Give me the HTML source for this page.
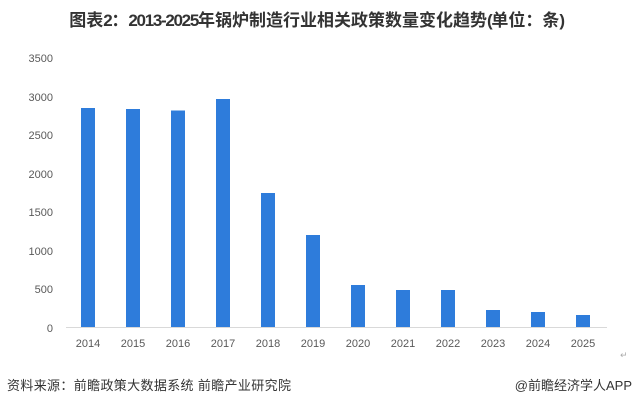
<!DOCTYPE html>
<html>
<head>
<meta charset="utf-8">
<style>
html,body{margin:0;padding:0;background:#fff;}
body{width:633px;height:407px;overflow:hidden;position:relative;font-family:"Liberation Sans","Noto Sans CJK SC",sans-serif;}
.title{position:absolute;left:0;top:10px;width:633px;text-align:center;font-weight:bold;font-size:17px;color:#333;white-space:nowrap;line-height:22px;font-family:"Liberation Sans","Noto Sans CJK SC",sans-serif;}
.title .n{letter-spacing:-1.3px;}
.foot{position:absolute;top:377px;font-size:13px;color:#333;line-height:18px;white-space:nowrap;}
</style>
</head>
<body>
<div class="title">图表<span class="n">2</span>：<span class="n">2013-2025</span>年锅炉制造行业相关政策数量变化趋势<span class="n">(</span>单位：条<span class="n">)</span></div>
<svg width="633" height="407" style="position:absolute;left:0;top:0" xmlns="http://www.w3.org/2000/svg">
<g font-family="Liberation Sans, sans-serif" font-size="11" fill="#595959" text-anchor="end">
<text x="53" y="62">3500</text>
<text x="53" y="101">3000</text>
<text x="53" y="139">2500</text>
<text x="53" y="178">2000</text>
<text x="53" y="216">1500</text>
<text x="53" y="255">1000</text>
<text x="53" y="293">500</text>
<text x="53" y="332">0</text>
</g>
<line x1="66" y1="327.5" x2="607" y2="327.5" stroke="#d9d9d9" stroke-width="1"/>
<g fill="#2e7cdb">
<rect x="81" y="108" width="14" height="219"/>
<rect x="126" y="109" width="14" height="218"/>
<rect x="171" y="110.5" width="14" height="216.5"/>
<rect x="216" y="99" width="14" height="228"/>
<rect x="261" y="193" width="14" height="134"/>
<rect x="306" y="235" width="14" height="92"/>
<rect x="351" y="285" width="14" height="42"/>
<rect x="396" y="290" width="14" height="37"/>
<rect x="441" y="290" width="14" height="37"/>
<rect x="486" y="310" width="14" height="17"/>
<rect x="531" y="312" width="14" height="15"/>
<rect x="576" y="315" width="14" height="12"/>
</g>
<g font-family="Liberation Sans, sans-serif" font-size="11" fill="#595959" text-anchor="middle">
<text x="88" y="347">2014</text>
<text x="133" y="347">2015</text>
<text x="178" y="347">2016</text>
<text x="223" y="347">2017</text>
<text x="268" y="347">2018</text>
<text x="313" y="347">2019</text>
<text x="358" y="347">2020</text>
<text x="403" y="347">2021</text>
<text x="448" y="347">2022</text>
<text x="493" y="347">2023</text>
<text x="538" y="347">2024</text>
<text x="583" y="347">2025</text>
</g>
<text x="620" y="358" font-family="Liberation Sans, DejaVu Sans, sans-serif" font-size="9" fill="#aaa">↵</text>
</svg>
<div class="foot" style="left:7px;letter-spacing:0.35px;">资料来源：前瞻政策大数据系统 前瞻产业研究院</div>
<div class="foot" style="right:1px;">@前瞻经济学人APP</div>
</body>
</html>
